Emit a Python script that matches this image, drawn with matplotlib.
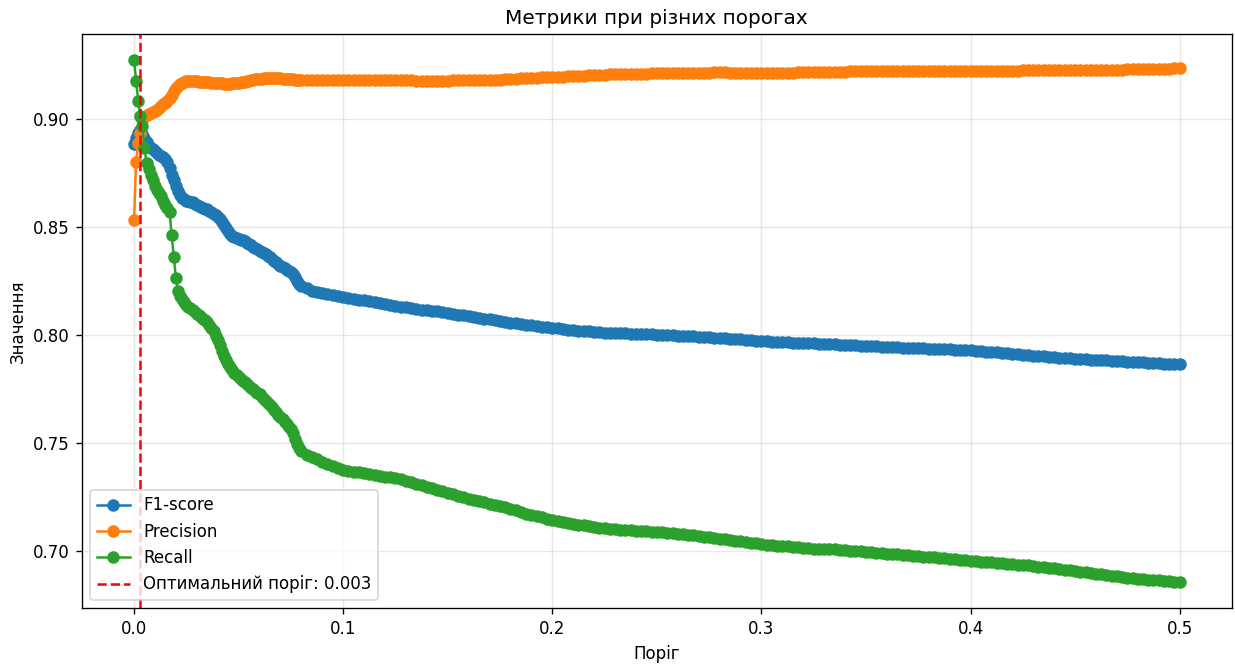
import numpy as np
import matplotlib
matplotlib.use("Agg")
import matplotlib.pyplot as plt

# Threshold grid: fine steps up to 0.08, coarser afterwards
thresholds_fine = np.round(np.arange(0.0, 0.0805, 0.001), 4)
thresholds_coarse = np.round(np.arange(0.0825, 0.50001, 0.0025), 4)
thresholds = np.concatenate([thresholds_fine, thresholds_coarse])

best_threshold = 0.003

f1_fine = [
    0.888, 0.891, 0.8935, 0.8948, 0.893, 0.891, 0.889, 0.8875, 0.8865, 0.886,
    0.885, 0.884, 0.883, 0.8825, 0.882, 0.8815, 0.880, 0.877, 0.874, 0.8715,
    0.869, 0.8665, 0.8645, 0.8635, 0.863, 0.862,
    0.8618, 0.8616, 0.8613, 0.8607, 0.8600, 0.8596, 0.8592, 0.8588, 0.8584, 0.8580,
    0.8574, 0.8568, 0.8561, 0.8553, 0.8545, 0.8535, 0.8524, 0.8510, 0.8495, 0.8480,
    0.8468, 0.8458, 0.8452, 0.8448, 0.8445, 0.8441, 0.8437, 0.8432, 0.8426, 0.8420,
    0.8414, 0.8408, 0.8402, 0.8396, 0.8390, 0.8384, 0.8378, 0.8372, 0.8366, 0.8360,
    0.8352, 0.8344, 0.8336, 0.8328, 0.8320, 0.8314, 0.8308, 0.8302, 0.8296, 0.8290,
    0.8280, 0.8268, 0.8250, 0.8235, 0.8225,
]
f1_coarse = [
    0.8215, 0.8205, 0.8200, 0.8195, 0.8190, 0.8185, 0.8180, 0.8175,
    0.8170, 0.8167, 0.8163, 0.8160, 0.8155, 0.8150, 0.8147, 0.8143, 0.8138, 0.8133,
    0.8130, 0.8127, 0.8123, 0.8120, 0.8117, 0.8115, 0.8112, 0.8110, 0.8105, 0.8100,
    0.8097, 0.8093, 0.8090, 0.8087, 0.8083, 0.8080, 0.8076, 0.8072, 0.8068, 0.8065,
    0.8061, 0.8057, 0.8053, 0.8050, 0.8047, 0.8044, 0.8041, 0.8038, 0.8035, 0.8032,
    0.8030, 0.8027, 0.8025, 0.8022, 0.8020, 0.8018, 0.8016, 0.8014, 0.8012, 0.8011,
    0.8010, 0.8009, 0.8008, 0.8007, 0.8006, 0.8006, 0.8005, 0.8004, 0.8003, 0.8002,
    0.8000, 0.7999, 0.7998, 0.7997, 0.7996, 0.7995, 0.7993, 0.7992, 0.7991, 0.7990,
    0.7988, 0.7987, 0.7985, 0.7983, 0.7981, 0.7980, 0.7978, 0.7976, 0.7974, 0.7972,
    0.7970, 0.7969, 0.7968, 0.7967, 0.7966, 0.7965, 0.7964, 0.7963, 0.7962, 0.7961,
    0.7960, 0.7959, 0.7957, 0.7956, 0.7955, 0.7954, 0.7953, 0.7952, 0.7950, 0.7949,
    0.7948, 0.7947, 0.7946, 0.7945, 0.7944, 0.7943, 0.7942, 0.7941, 0.7940, 0.7939,
    0.7938, 0.7937, 0.7936, 0.7935, 0.7934, 0.7933, 0.7932, 0.7931, 0.7930, 0.7929,
    0.7927, 0.7925, 0.7923, 0.7921, 0.7919, 0.7917, 0.7915, 0.7913, 0.7911, 0.7909,
    0.7907, 0.7905, 0.7903, 0.7901, 0.7898, 0.7896, 0.7895, 0.7893, 0.7892, 0.7890,
    0.7889, 0.7888, 0.7886, 0.7885, 0.7884, 0.7882, 0.7881, 0.7880, 0.7878, 0.7877,
    0.7876, 0.7874, 0.7873, 0.7872, 0.7870, 0.7869, 0.7868, 0.7867, 0.7866, 0.7865,
]

precision_fine = [
    0.853, 0.880, 0.8885, 0.8935, 0.8995, 0.9005, 0.9015, 0.902, 0.9025, 0.903,
    0.9035, 0.904, 0.905, 0.906, 0.9065, 0.907, 0.908, 0.9095, 0.911, 0.9125,
    0.914, 0.915, 0.916, 0.9165, 0.917, 0.9172,
    0.9173, 0.9173, 0.9173, 0.9172, 0.9172, 0.9171, 0.9170, 0.9170, 0.9169, 0.9168,
    0.9167, 0.9166, 0.9166, 0.9165, 0.9164, 0.9163, 0.9162, 0.9161, 0.9161, 0.9160,
    0.9161, 0.9162, 0.9163, 0.9164, 0.9166, 0.9168, 0.9169, 0.9171, 0.9173, 0.9175,
    0.9177, 0.9179, 0.9181, 0.9182, 0.9183, 0.9184, 0.9185, 0.9186, 0.9187, 0.9187,
    0.9187, 0.9186, 0.9186, 0.9185, 0.9185, 0.9184, 0.9183, 0.9182, 0.9182, 0.9181,
    0.9181, 0.9180, 0.9180, 0.9179, 0.9179,
]
precision_coarse = [
    0.9178, 0.9178, 0.9178, 0.9178, 0.9178, 0.9178, 0.9178, 0.9179,
    0.9179, 0.9179, 0.9180, 0.9180, 0.9180, 0.9179, 0.9179, 0.9178, 0.9178, 0.9177,
    0.9177, 0.9176, 0.9176, 0.9175, 0.9175, 0.9175, 0.9175, 0.9175, 0.9175, 0.9175,
    0.9176, 0.9176, 0.9177, 0.9177, 0.9178, 0.9178, 0.9179, 0.9179, 0.9180, 0.9180,
    0.9181, 0.9182, 0.9183, 0.9185, 0.9186, 0.9187, 0.9188, 0.9190, 0.9191, 0.9192,
    0.9193, 0.9194, 0.9195, 0.9196, 0.9197, 0.9198, 0.9199, 0.9200, 0.9201, 0.9203,
    0.9204, 0.9204, 0.9205, 0.9205, 0.9206, 0.9206, 0.9207, 0.9207, 0.9208, 0.9208,
    0.9208, 0.9209, 0.9209, 0.9210, 0.9210, 0.9211, 0.9211, 0.9211, 0.9212, 0.9212,
    0.9213, 0.9213, 0.9213, 0.9212, 0.9212, 0.9211, 0.9211, 0.9210, 0.9210, 0.9210,
    0.9210, 0.9210, 0.9211, 0.9211, 0.9212, 0.9212, 0.9213, 0.9213, 0.9214, 0.9214,
    0.9215, 0.9215, 0.9216, 0.9216, 0.9217, 0.9217, 0.9218, 0.9218, 0.9219, 0.9219,
    0.9219, 0.9219, 0.9219, 0.9219, 0.9219, 0.9219, 0.9219, 0.9219, 0.9219, 0.9219,
    0.9219, 0.9219, 0.9219, 0.9219, 0.9219, 0.9219, 0.9219, 0.9219, 0.9220, 0.9220,
    0.9220, 0.9220, 0.9220, 0.9220, 0.9221, 0.9221, 0.9221, 0.9221, 0.9221, 0.9222,
    0.9222, 0.9222, 0.9222, 0.9223, 0.9223, 0.9224, 0.9224, 0.9224, 0.9225, 0.9225,
    0.9225, 0.9225, 0.9225, 0.9225, 0.9226, 0.9226, 0.9226, 0.9226, 0.9226, 0.9227,
    0.9227, 0.9228, 0.9228, 0.9229, 0.9229, 0.9230, 0.9231, 0.9231, 0.9232, 0.9233,
]

recall_fine = [
    0.927, 0.9175, 0.908, 0.901, 0.8965, 0.8864, 0.8794, 0.8765, 0.874, 0.8715,
    0.869, 0.867, 0.8655, 0.864, 0.862, 0.860, 0.8585, 0.857, 0.846, 0.836,
    0.8265, 0.8205, 0.818, 0.8165, 0.815, 0.8138,
    0.8131, 0.8124, 0.8116, 0.8107, 0.8098, 0.8091, 0.8084, 0.8076, 0.8068, 0.8060,
    0.8048, 0.8034, 0.8016, 0.7996, 0.7975, 0.7952, 0.7927, 0.7903, 0.7884, 0.7865,
    0.7850, 0.7837, 0.7825, 0.7815, 0.7805, 0.7797, 0.7789, 0.7781, 0.7773, 0.7765,
    0.7757, 0.7749, 0.7741, 0.7733, 0.7725, 0.7715, 0.7705, 0.7695, 0.7685, 0.7675,
    0.7665, 0.7655, 0.7643, 0.7631, 0.7620, 0.7610, 0.7600, 0.7588, 0.7576, 0.7565,
    0.7545, 0.7520, 0.7495, 0.7478, 0.7465,
]
recall_coarse = [
    0.7445, 0.7435, 0.7425, 0.7415, 0.7405, 0.7395, 0.7385, 0.7378,
    0.7373, 0.7369, 0.7365, 0.7360, 0.7357, 0.7354, 0.7350, 0.7346, 0.7342, 0.7338,
    0.7333, 0.7327, 0.7320, 0.7313, 0.7306, 0.7299, 0.7292, 0.7285, 0.7278, 0.7270,
    0.7264, 0.7257, 0.7250, 0.7244, 0.7238, 0.7232, 0.7226, 0.7220, 0.7214, 0.7208,
    0.7203, 0.7198, 0.7190, 0.7180, 0.7175, 0.7170, 0.7163, 0.7157, 0.7151, 0.7145,
    0.7140, 0.7136, 0.7132, 0.7128, 0.7124, 0.7120, 0.7116, 0.7112, 0.7109, 0.7106,
    0.7104, 0.7102, 0.7100, 0.7099, 0.7097, 0.7095, 0.7094, 0.7092, 0.7091, 0.7090,
    0.7088, 0.7086, 0.7084, 0.7082, 0.7080, 0.7077, 0.7074, 0.7071, 0.7068, 0.7065,
    0.7061, 0.7058, 0.7055, 0.7052, 0.7049, 0.7046, 0.7043, 0.7040, 0.7037, 0.7034,
    0.7031, 0.7029, 0.7027, 0.7025, 0.7023, 0.7021, 0.7019, 0.7017, 0.7015, 0.7013,
    0.7012, 0.7011, 0.7010, 0.7009, 0.7007, 0.7006, 0.7004, 0.7002, 0.7000, 0.6998,
    0.6996, 0.6994, 0.6992, 0.6990, 0.6988, 0.6986, 0.6984, 0.6982, 0.6980, 0.6978,
    0.6976, 0.6974, 0.6972, 0.6970, 0.6968, 0.6966, 0.6964, 0.6962, 0.6960, 0.6957,
    0.6955, 0.6953, 0.6951, 0.6949, 0.6947, 0.6945, 0.6943, 0.6941, 0.6939, 0.6937,
    0.6935, 0.6932, 0.6930, 0.6927, 0.6924, 0.6921, 0.6918, 0.6915, 0.6912, 0.6909,
    0.6906, 0.6903, 0.6900, 0.6897, 0.6894, 0.6891, 0.6888, 0.6885, 0.6882, 0.6879,
    0.6876, 0.6874, 0.6872, 0.6870, 0.6868, 0.6866, 0.6864, 0.6862, 0.6860, 0.6857,
]

f1_scores = np.array(f1_fine + f1_coarse)
precisions = np.array(precision_fine + precision_coarse)
recalls = np.array(recall_fine + recall_coarse)

fig, ax = plt.subplots(figsize=(1235 / 120, 666 / 120), dpi=120)
fig.subplots_adjust(left=0.0662, right=0.9975, bottom=0.0864, top=0.949)

ax.plot(thresholds, f1_scores, marker="o", markersize=6.5, label="F1-score")
ax.plot(thresholds, precisions, marker="o", markersize=6.5, label="Precision")
ax.plot(thresholds, recalls, marker="o", markersize=6.5, label="Recall")
ax.axvline(best_threshold, color="r", linestyle="--",
           label=f"Оптимальний поріг: {best_threshold:.3f}")

ax.set_xlabel("Поріг")
ax.set_ylabel("Значення")
ax.set_title("Метрики при різних порогах")
ax.legend(loc="lower left")
ax.grid(True, alpha=0.3)

fig.savefig("out.png", dpi=120)
